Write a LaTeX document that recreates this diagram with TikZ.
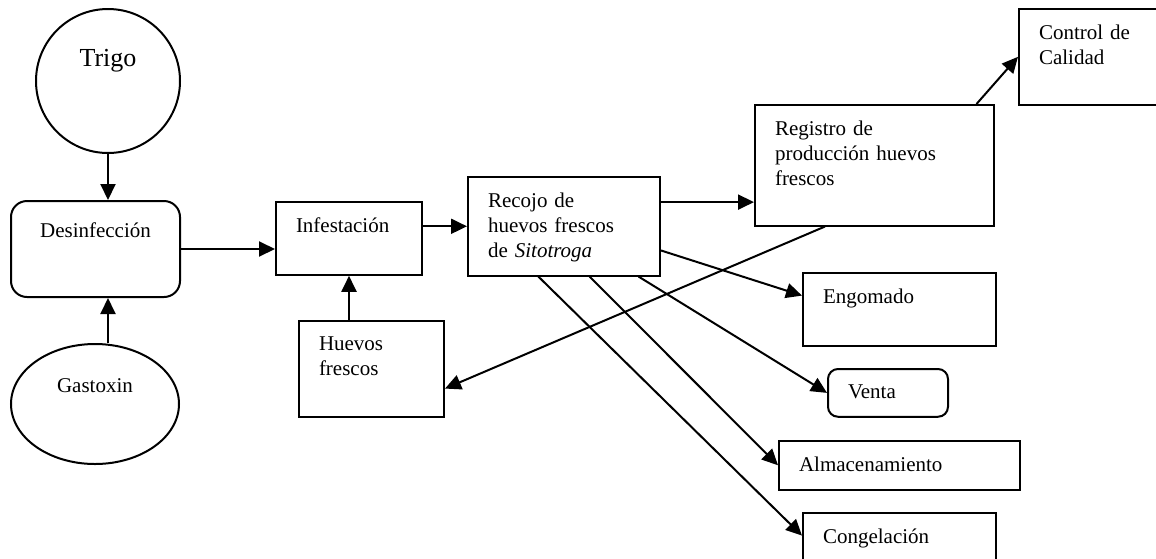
\documentclass[tikz,border=0pt]{standalone}
\usepackage{fontspec}
\setmainfont{Liberation Serif}
\usetikzlibrary{arrows.meta,shapes.geometric}

\begin{document}
\begin{tikzpicture}[x=0.5pt,y=-0.5pt,>={Triangle[length=8pt,width=7.5pt]},line width=1pt,
  font=\fontsize{10.5}{12.5}\selectfont,
  box/.style={draw,anchor=north west,align=left,inner xsep=10pt,inner ysep=8pt,text depth=13pt,text width=#1},
  flat/.style={text depth=1pt}]
  \useasboundingbox (0,0) rectangle (1156,558);
  % Materia prima y desinfeccion
  \node[draw,circle,minimum size=72pt,inner sep=0pt,text depth=23pt,font=\fontsize{13}{15}\selectfont] (trigo) at (108,81) {Trigo};
  \node[draw,rounded corners=8pt,minimum width=84.5pt,minimum height=48pt,text depth=19pt] (desinf) at (95.5,249) {Desinfección};
  \node[draw,ellipse,minimum width=84pt,minimum height=60pt,inner sep=0pt,text depth=18pt] (gastoxin) at (95,404) {Gastoxin};
  % Cajas del proceso
  \node[box=53pt] (infest) at (275,201) {Infestación};
  \node[box=76pt,text depth=26pt] (recojo) at (467,176) {Recojo de\\huevos frescos\\de \textit{Sitotroga}};
  \node[box=52.5pt,text depth=25pt] (huevos) at (298,320) {Huevos\\frescos};
  \node[box=99.5pt,text depth=37pt] (registro) at (754,104) {Registro de\\producción huevos\\frescos};
  \node[box=70pt,text depth=24.5pt] (control) at (1018,8) {Control de\\Calidad};
  % Destinos
  \node[box=76.5pt] (engomado) at (802,272) {Engomado};
  \node[box=40pt,flat,rounded corners=5pt] (venta) at (827,368) {Venta};
  \node[box=100.5pt,flat] (almac) at (778,440) {Almacenamiento};
  \node[box=76.5pt] (congel) at (802,512) {Congelación};
  % Flechas
  \draw[->] (trigo.south) -- (desinf.north -| trigo.south);
  \draw[->] (gastoxin.north -| trigo.south) -- (desinf.south -| trigo.south);
  \draw[->] (desinf.east) -- (desinf.east -| infest.west);
  \draw[->] (recojo.west -| infest.east) -- (recojo.west);
  \draw[->] (huevos.north -| infest.south) -- (infest.south);
  \draw[->] (recojo.14) -- (recojo.14 -| registro.west);
  \draw[->] (registro.31) -- (control.west);
  \draw[->] (registro.231) -- (huevos.-15);
  \draw[->] (recojo.-14) -- (engomado.172);
  \draw[->] (recojo.-34) -- (venta.west);
  \draw[->] (recojo.-63) -- (almac.west);
  \draw[->] (recojo.-117) -- (congel.172);
\end{tikzpicture}
\end{document}
